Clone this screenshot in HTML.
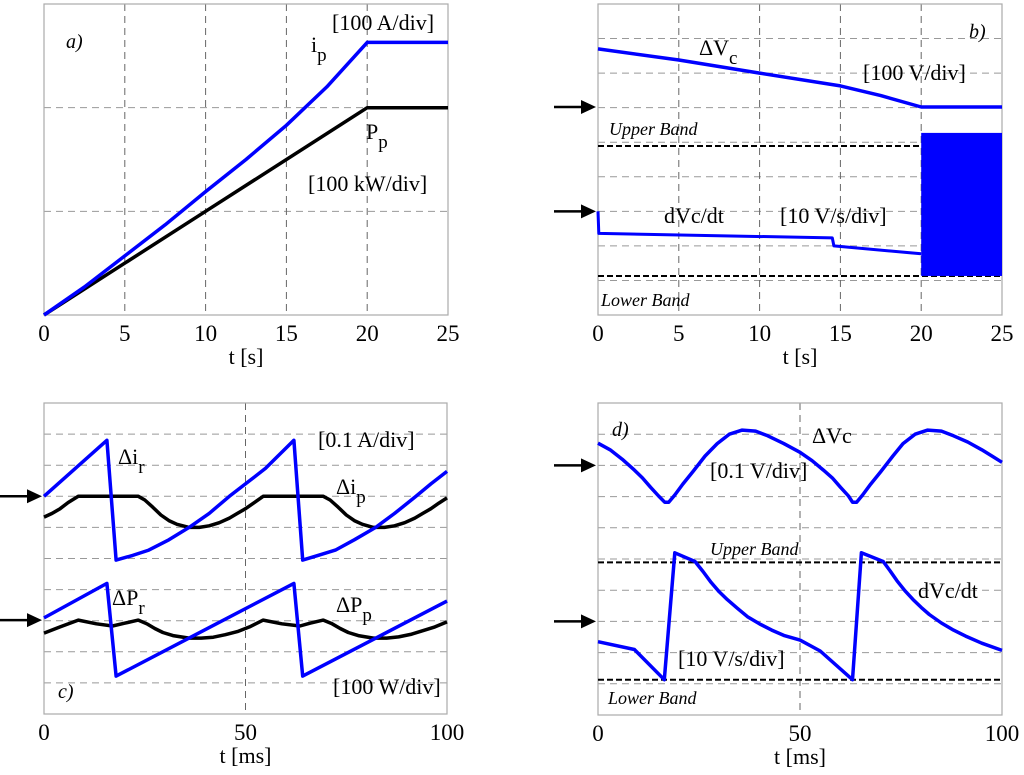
<!DOCTYPE html>
<html><head><meta charset="utf-8"><style>
body{margin:0;background:#fff;}
svg text{font-family:"Liberation Serif",serif;fill:#000;}
</style></head><body>
<svg id="s" width="1024" height="770" xmlns="http://www.w3.org/2000/svg"></svg>
<script>
// ---- data (time, value in grid divisions) ----
const aTicks=[0,5,10,15,20,25];
const aIp=[[0,0],[2.5,0.27],[5,0.57],[7.5,0.87],[10,1.19],[12.5,1.5],[15,1.83],[17.5,2.2],[20,2.63],[25,2.63]];
const aPp=[[0,0],[10,1.0],[20,2.0],[25,2.0]];
const bTicks=[0,5,10,15,20,25];
const bVc=[[0,7.7],[5,7.38],[10,7.0],[15,6.63],[17.5,6.35],[20,6.02],[25,6.02]];
const bDv=[[0,3.0],[0.05,2.36],[14.5,2.23],[14.6,2.0],[20,1.77]];
const bBands=[4.89,1.13];
const bFill=[20,25,5.27,1.13];
const cTicks=[0,50,100];
const cIr=[[0,7.0],[15.6,8.8],[17.9,4.95],[22,5.1],[26,5.27],[31,5.6],[36,6.0],[41,6.45],[46,7.0],[51,7.5],[55,7.9],[62,8.8],[64.2,4.95],[68,5.1],[72.3,5.27],[77,5.6],[82.3,6.0],[87,6.45],[92.3,7.0],[96,7.4],[100,7.8]];
const cIp=[[0,6.33],[2,6.45],[4,6.6],[6,6.8],[8.5,7.0],[23.4,7.0],[25,6.88],[27,6.65],[29,6.4],[31,6.22],[33,6.1],[36,6.0],[38.5,6.0],[41,6.05],[43.5,6.15],[46,6.3],[48,6.45],[50,6.6],[52,6.78],[54.4,7.0],[69.3,7.0],[71,6.88],[73,6.65],[75,6.4],[77,6.22],[79,6.1],[81.7,6.0],[84.5,6.0],[87,6.05],[89.5,6.15],[92,6.3],[94,6.45],[96,6.6],[98,6.78],[100,6.95]];
const cPr=[[0,3.09],[15.6,4.2],[17.9,1.22],[62,4.2],[64.2,1.22],[100,3.63]];
const cPp=[[0,2.6],[4,2.8],[8.5,3.02],[13,2.9],[17,2.83],[20,2.92],[23.4,3.02],[25.5,2.9],[27.5,2.75],[29.5,2.62],[32,2.52],[36,2.44],[39,2.44],[42,2.47],[45,2.55],[48,2.65],[51,2.8],[54.4,3.02],[59,2.9],[63.5,2.83],[66,2.92],[69.3,3.02],[71.5,2.9],[73.5,2.75],[75.5,2.62],[78,2.52],[81.7,2.44],[85,2.44],[88,2.48],[91,2.56],[94,2.68],[97,2.8],[100,2.96]];
const dVc=[[0,8.71],[3,8.5],[6,8.2],[9,7.85],[11,7.6],[13,7.3],[15,7.02],[16.5,6.82],[17.5,6.82],[19,7.05],[21,7.4],[23.5,7.8],[26.5,8.3],[29.5,8.7],[32.5,9.0],[35.7,9.13],[39,9.1],[42,8.95],[46,8.7],[50,8.42],[53,8.15],[55.8,7.85],[58,7.6],[60,7.3],[62,7.02],[63,6.82],[64,6.82],[65.5,7.05],[67.5,7.4],[70,7.8],[73,8.3],[75.5,8.7],[78.5,9.0],[81.6,9.13],[85,9.1],[88,8.95],[91.5,8.75],[95,8.5],[97.5,8.3],[100,8.1]];
const dDv=[[0,2.35],[9,2.1],[16.4,1.13],[19,5.2],[24,4.92],[26,4.6],[28,4.25],[30,3.95],[32,3.7],[34.5,3.42],[37,3.15],[40,2.92],[43,2.72],[46,2.55],[50,2.4],[55,2.05],[63,1.13],[65.2,5.2],[70.6,4.92],[72.3,4.62],[74,4.3],[76,3.98],[78,3.7],[80,3.45],[82,3.22],[85,2.95],[88,2.72],[91,2.53],[95,2.3],[100,2.07]];
const dBands=[4.89,1.13];

const S=document.getElementById('s');const NS='http://www.w3.org/2000/svg';
function mk(t,a,p){const e=document.createElementNS(NS,t);for(const k in a)e.setAttribute(k,a[k]);(p||S).appendChild(e);return e;}
function txt(x,y,s,size,name,extra){const e=mk('text',Object.assign({x:x,y:y,'font-size':size},extra||{}));e.innerHTML=s;


return e;}
function panel(P){
 const sx=t=>P.x0+(t-P.t0)/(P.t1-P.t0)*(P.x1-P.x0);
 const sy=v=>P.y1-v*(P.y1-P.y0)/P.nd;
 P.sx=sx;P.sy=sy;
 const g=mk('g',{});
 
 
 for(let i=1;i<P.nd;i++){const l=mk('line',{x1:P.x0,x2:P.x1,y1:sy(i),y2:sy(i),stroke:'#999','stroke-width':1,'stroke-dasharray':'7,5'},g);
  
  }
 P.vg.forEach(t=>{const l=mk('line',{x1:sx(t),x2:sx(t),y1:P.y0,y2:P.y1,stroke:'#666','stroke-width':1,'stroke-dasharray':'7,5'},g);
  
  });
 const r=mk('rect',{x:P.x0,y:P.y0,width:P.x1-P.x0,height:P.y1-P.y0,fill:'none',stroke:'#aaa','stroke-width':1.2},g);
 
 
 P.ticks.forEach(t=>{txt(sx(t),P.y1+26,t,23,'x-tick-label',{'text-anchor':'middle'});});
 txt((P.x0+P.x1)/2,P.y1+49,P.xl,22,'x-axis-title',{'text-anchor':'middle'});
 return g;}
function line(P,d,col,w,name){const pts=d.map(p=>P.sx(p[0]).toFixed(1)+','+P.sy(p[1]).toFixed(1)).join(' ');
 const e=mk('polyline',{points:pts,fill:'none',stroke:col,'stroke-width':w,'stroke-linejoin':'round'});
 
 }
function band(P,v,name){const e=mk('line',{x1:P.x0,x2:P.x1,y1:P.sy(v),y2:P.sy(v),stroke:'#000','stroke-width':2,'stroke-dasharray':'6,3'});
 
 }
function arrow(P,v,name){const y=P.sy(v);const g=mk('g',{});
 
 
 mk('line',{x1:P.x0-44,x2:P.x0-14,y1:y,y2:y,stroke:'#000','stroke-width':2.5},g);
 mk('polygon',{points:(P.x0-17)+','+(y-7)+' '+(P.x0-2)+','+y+' '+(P.x0-17)+','+(y+7),fill:'#000'},g);}

const A={name:'panel-a',x0:44,x1:448,y0:4,y1:315,t0:0,t1:25,nd:3,vg:[5,10,15,20],ticks:aTicks,xl:'t [s]'};
panel(A);
line(A,aPp,'#000',3.5,'pp-line');line(A,aIp,'#0000ff',3.5,'ip-line');
txt(66,48,'a)',20,'panel-a-label',{'font-style':'italic'});
txt(332,30,'[100 A/div]',22,'ip-scale');
txt(311,52,'i<tspan font-size="19" dy="9">p</tspan>',22,'ip-label');
txt(366,139,'P<tspan font-size="19" dy="9">p</tspan>',22,'pp-label');
txt(308,191,'[100 kW/div]',22,'pp-scale');

const B={name:'panel-b',x0:598,x1:1002,y0:4,y1:315,t0:0,t1:25,nd:9,vg:[5,10,15,20],ticks:bTicks,xl:'t [s]'};
panel(B);
bBands.forEach((v,i)=>band(B,v,i?'lower-band':'upper-band'));
{const r=mk('rect',{x:B.sx(bFill[0]),y:B.sy(bFill[2]),width:B.sx(bFill[1])-B.sx(bFill[0]),height:B.sy(bFill[3])-B.sy(bFill[2]),fill:'#0000ff'});

}
line(B,bVc,'#0000ff',3.5,'dvc-line');line(B,bDv,'#0000ff',3,'dvdt-line');
arrow(B,bVc[bVc.length-1][1],'ref-arrow-vc');arrow(B,3.0,'ref-arrow-dvdt');
txt(969,38,'b)',20,'panel-b-label',{'font-style':'italic'});
txt(699,55,'ΔV<tspan font-size="19" dy="9">c</tspan>',22,'dvc-label');
txt(863,80,'[100 V/div]',22,'dvc-scale');
txt(609,135,'Upper Band',18,'upper-band-label',{'font-style':'italic'});
txt(664,223,'dVc/dt',22,'dvdt-label');
txt(780,223,'[10 V/s/div]',22,'dvdt-scale');
txt(601,306,'Lower Band',18,'lower-band-label',{'font-style':'italic'});

const C={name:'panel-c',x0:44,x1:447,y0:403,y1:714,t0:0,t1:100,nd:10,vg:[50],ticks:cTicks,xl:'t [ms]'};
panel(C);
line(C,cIp,'#000',3.5,'dip-line');line(C,cPp,'#000',3.5,'dpp-line');
line(C,cIr,'#0000ff',3.5,'dir-line');line(C,cPr,'#0000ff',3.5,'dpr-line');
arrow(C,7.0,'ref-arrow-current');arrow(C,3.02,'ref-arrow-power');
txt(58,698,'c)',20,'panel-c-label',{'font-style':'italic'});
txt(318,447,'[0.1 A/div]',22,'current-scale');
txt(118,464,'Δi<tspan font-size="19" dy="9">r</tspan>',22,'dir-label');
txt(336,494,'Δi<tspan font-size="19" dy="9">p</tspan>',22,'dip-label');
txt(112,605,'ΔP<tspan font-size="19" dy="9">r</tspan>',22,'dpr-label');
txt(336,612,'ΔP<tspan font-size="19" dy="9">p</tspan>',22,'dpp-label');
txt(333,694,'[100 W/div]',22,'power-scale');

const D={name:'panel-d',x0:598,x1:1002,y0:403,y1:715,t0:0,t1:100,nd:10,vg:[50],ticks:cTicks,xl:'t [ms]'};
panel(D);
dBands.forEach((v,i)=>band(D,v,i?'lower-band-d':'upper-band-d'));
line(D,dVc,'#0000ff',3.5,'dvc-line-d');line(D,dDv,'#0000ff',3.5,'dvdt-line-d');
arrow(D,8.0,'ref-arrow-vc-d');arrow(D,3.0,'ref-arrow-dvdt-d');
txt(612,436,'d)',20,'panel-d-label',{'font-style':'italic'});
txt(812,443,'ΔVc',22,'dvc-label-d');
txt(710,478,'[0.1 V/div]',22,'dvc-scale-d');
txt(710,555,'Upper Band',18,'upper-band-label-d',{'font-style':'italic'});
txt(918,598,'dVc/dt',22,'dvdt-label-d');
txt(678,666,'[10 V/s/div]',22,'dvdt-scale-d');
txt(608,704,'Lower Band',18,'lower-band-label-d',{'font-style':'italic'});
</script>
</body></html>
